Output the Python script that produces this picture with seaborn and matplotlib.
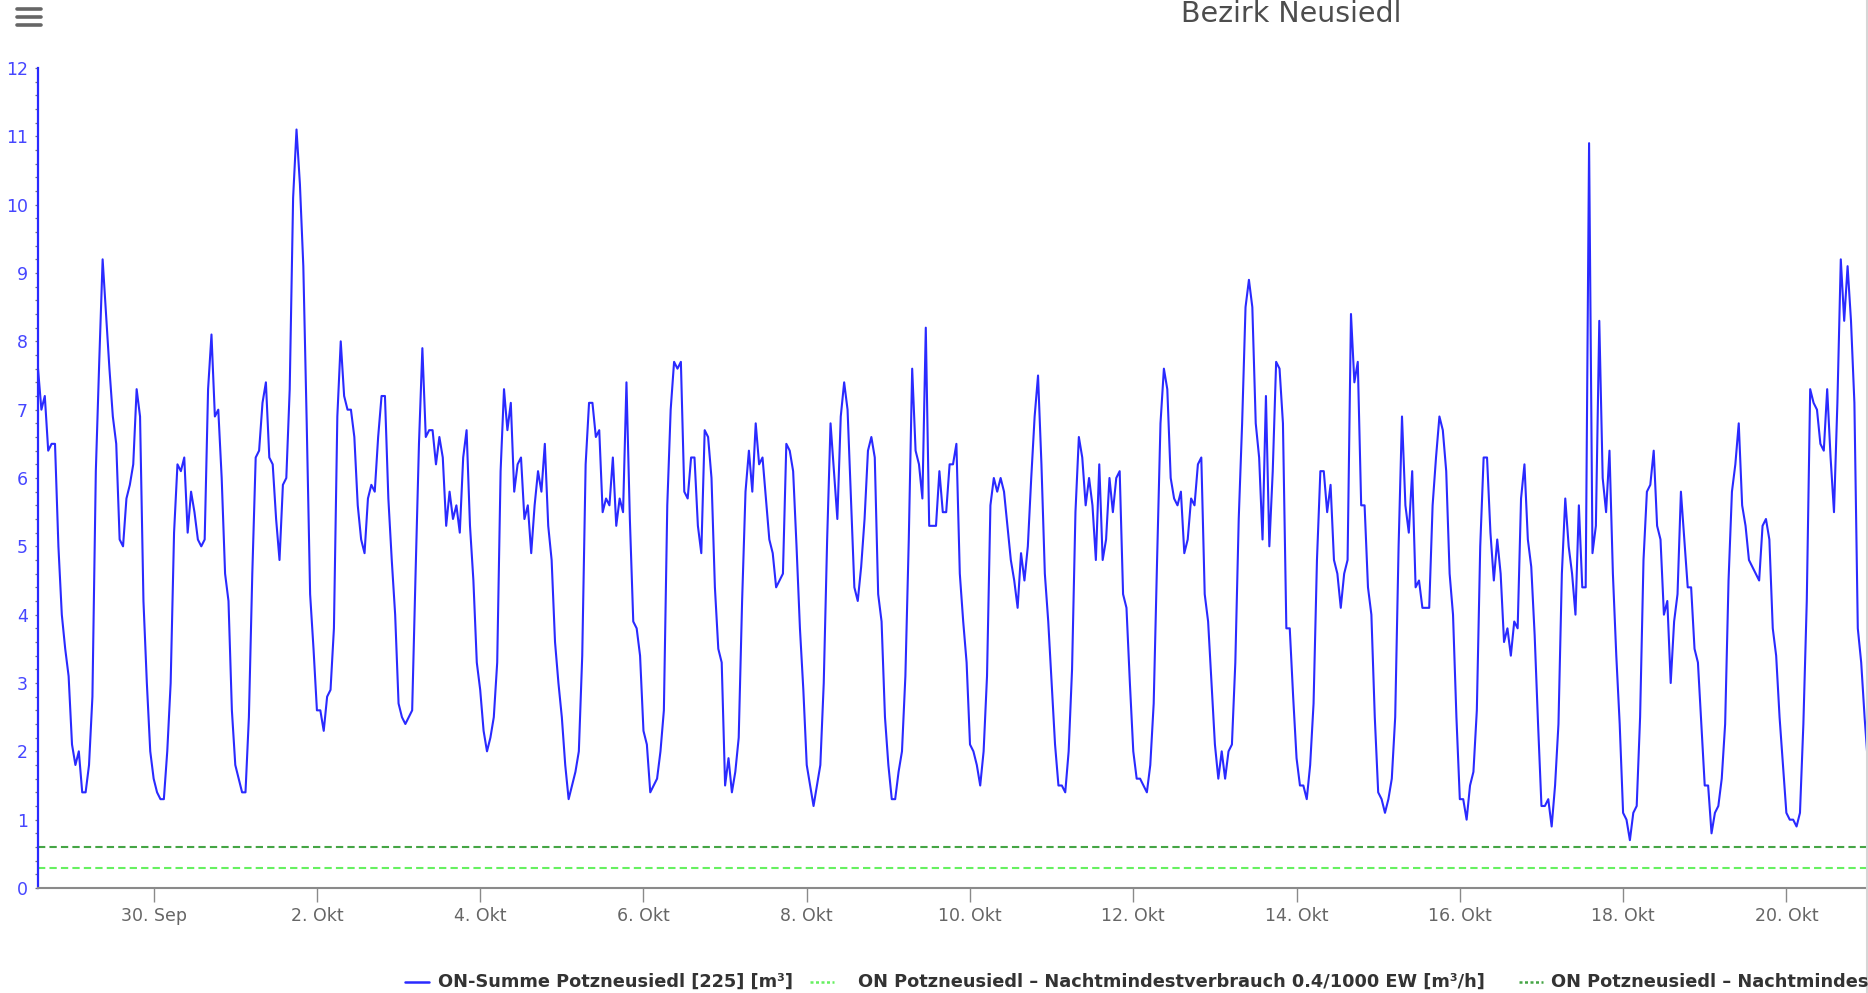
import matplotlib
matplotlib.use("Agg")
import matplotlib.pyplot as plt
from matplotlib.lines import Line2D
from matplotlib.ticker import MultipleLocator
import pandas as pd
import seaborn as sns

# Hourly night-flow totals, one list per calendar day (first day starts 14:00)
sep28 = [7.6, 7.0, 7.2, 6.4, 6.5, 6.5, 5.0, 4.0, 3.5, 3.1]
sep29 = [2.1, 1.8, 2.0, 1.4, 1.4, 1.8, 2.8, 6.1, 7.7, 9.2, 8.4, 7.6, 6.9, 6.5, 5.1, 5.0, 5.7, 5.9, 6.2, 7.3, 6.9, 4.2, 3.0, 2.0]
sep30 = [1.6, 1.4, 1.3, 1.3, 2.0, 3.0, 5.2, 6.2, 6.1, 6.3, 5.2, 5.8, 5.5, 5.1, 5.0, 5.1, 7.3, 8.1, 6.9, 7.0, 6.0, 4.6, 4.2, 2.6]
oct01 = [1.8, 1.6, 1.4, 1.4, 2.5, 4.6, 6.3, 6.4, 7.1, 7.4, 6.3, 6.2, 5.4, 4.8, 5.9, 6.0, 7.3, 10.1, 11.1, 10.3, 9.1, 6.8, 4.3, 3.5]
oct02 = [2.6, 2.6, 2.3, 2.8, 2.9, 3.8, 6.9, 8.0, 7.2, 7.0, 7.0, 6.6, 5.6, 5.1, 4.9, 5.7, 5.9, 5.8, 6.6, 7.2, 7.2, 5.7, 4.8, 4.0]
oct03 = [2.7, 2.5, 2.4, 2.5, 2.6, 4.6, 6.5, 7.9, 6.6, 6.7, 6.7, 6.2, 6.6, 6.3, 5.3, 5.8, 5.4, 5.6, 5.2, 6.3, 6.7, 5.3, 4.5, 3.3]
oct04 = [2.9, 2.3, 2.0, 2.2, 2.5, 3.3, 6.1, 7.3, 6.7, 7.1, 5.8, 6.2, 6.3, 5.4, 5.6, 4.9, 5.6, 6.1, 5.8, 6.5, 5.3, 4.8, 3.6, 3.0]
oct05 = [2.5, 1.8, 1.3, 1.5, 1.7, 2.0, 3.4, 6.2, 7.1, 7.1, 6.6, 6.7, 5.5, 5.7, 5.6, 6.3, 5.3, 5.7, 5.5, 7.4, 5.4, 3.9, 3.8, 3.4]
oct06 = [2.3, 2.1, 1.4, 1.5, 1.6, 2.0, 2.6, 5.6, 7.0, 7.7, 7.6, 7.7, 5.8, 5.7, 6.3, 6.3, 5.3, 4.9, 6.7, 6.6, 6.0, 4.4, 3.5, 3.3]
oct07 = [1.5, 1.9, 1.4, 1.7, 2.2, 4.2, 5.8, 6.4, 5.8, 6.8, 6.2, 6.3, 5.7, 5.1, 4.9, 4.4, 4.5, 4.6, 6.5, 6.4, 6.1, 5.0, 3.8, 2.9]
oct08 = [1.8, 1.5, 1.2, 1.5, 1.8, 3.0, 5.1, 6.8, 6.1, 5.4, 6.9, 7.4, 7.0, 5.7, 4.4, 4.2, 4.7, 5.4, 6.4, 6.6, 6.3, 4.3, 3.9, 2.5]
oct09 = [1.8, 1.3, 1.3, 1.7, 2.0, 3.1, 5.1, 7.6, 6.4, 6.2, 5.7, 8.2, 5.3, 5.3, 5.3, 6.1, 5.5, 5.5, 6.2, 6.2, 6.5, 4.6, 3.9, 3.3]
oct10 = [2.1, 2.0, 1.8, 1.5, 2.0, 3.1, 5.6, 6.0, 5.8, 6.0, 5.8, 5.3, 4.8, 4.5, 4.1, 4.9, 4.5, 5.0, 6.0, 6.9, 7.5, 6.2, 4.6, 3.9]
oct11 = [3.0, 2.1, 1.5, 1.5, 1.4, 2.0, 3.2, 5.5, 6.6, 6.3, 5.6, 6.0, 5.6, 4.8, 6.2, 4.8, 5.1, 6.0, 5.5, 6.0, 6.1, 4.3, 4.1, 3.0]
oct12 = [2.0, 1.6, 1.6, 1.5, 1.4, 1.8, 2.7, 4.8, 6.8, 7.6, 7.3, 6.0, 5.7, 5.6, 5.8, 4.9, 5.1, 5.7, 5.6, 6.2, 6.3, 4.3, 3.9, 3.0]
oct13 = [2.1, 1.6, 2.0, 1.6, 2.0, 2.1, 3.3, 5.4, 6.8, 8.5, 8.9, 8.5, 6.8, 6.3, 5.1, 7.2, 5.0, 6.1, 7.7, 7.6, 6.8, 3.8, 3.8, 2.8]
oct14 = [1.9, 1.5, 1.5, 1.3, 1.8, 2.7, 4.8, 6.1, 6.1, 5.5, 5.9, 4.8, 4.6, 4.1, 4.6, 4.8, 8.4, 7.4, 7.7, 5.6, 5.6, 4.4, 4.0, 2.5]
oct15 = [1.4, 1.3, 1.1, 1.3, 1.6, 2.5, 5.0, 6.9, 5.6, 5.2, 6.1, 4.4, 4.5, 4.1, 4.1, 4.1, 5.6, 6.3, 6.9, 6.7, 6.1, 4.6, 4.0, 2.5]
oct16 = [1.3, 1.3, 1.0, 1.5, 1.7, 2.6, 5.0, 6.3, 6.3, 5.2, 4.5, 5.1, 4.6, 3.6, 3.8, 3.4, 3.9, 3.8, 5.7, 6.2, 5.1, 4.7, 3.7, 2.4]
oct17 = [1.2, 1.2, 1.3, 0.9, 1.5, 2.4, 4.6, 5.7, 5.0, 4.6, 4.0, 5.6, 4.4, 4.4, 10.9, 4.9, 5.3, 8.3, 6.0, 5.5, 6.4, 4.6, 3.4, 2.4]
oct18 = [1.1, 1.0, 0.7, 1.1, 1.2, 2.5, 4.8, 5.8, 5.9, 6.4, 5.3, 5.1, 4.0, 4.2, 3.0, 3.9, 4.3, 5.8, 5.1, 4.4, 4.4, 3.5, 3.3, 2.4]
oct19 = [1.5, 1.5, 0.8, 1.1, 1.2, 1.6, 2.4, 4.5, 5.8, 6.2, 6.8, 5.6, 5.3, 4.8, 4.7, 4.6, 4.5, 5.3, 5.4, 5.1, 3.8, 3.4, 2.5, 1.8]
oct20 = [1.1, 1.0, 1.0, 0.9, 1.1, 2.4, 4.2, 7.3, 7.1, 7.0, 6.5, 6.4, 7.3, 6.3, 5.5, 7.1, 9.2, 8.3, 9.1, 8.3, 7.1, 3.8, 3.3, 2.5]
oct21 = [1.8, 1.4]

days = [sep28, sep29, sep30, oct01, oct02, oct03, oct04, oct05, oct06, oct07,
        oct08, oct09, oct10, oct11, oct12, oct13, oct14, oct15, oct16, oct17,
        oct18, oct19, oct20, oct21]
first_hour = "2019-09-28 14:00"

# Night minimum thresholds [m³/h]
night_min_04 = 0.3
night_min_08 = 0.6

# Axis labels
tick_days = ["2019-09-30", "2019-10-02", "2019-10-04", "2019-10-06", "2019-10-08",
             "2019-10-10", "2019-10-12", "2019-10-14", "2019-10-16", "2019-10-18",
             "2019-10-20"]
tick_labels = ["30. Sep", "2. Okt", "4. Okt", "6. Okt", "8. Okt", "10. Okt",
               "12. Okt", "14. Okt", "16. Okt", "18. Okt", "20. Okt"]

title = "Bezirk Neusiedl"
legend_labels = [
    "ON-Summe Potzneusiedl [225] [m³]",
    "ON Potzneusiedl – Nachtmindestverbrauch 0.4/1000 EW [m³/h]",
    "ON Potzneusiedl – Nachtmindestverbrauch 0.8/1000 EW [m³/h]",
]

values = [v for day in days for v in day]
df = pd.DataFrame({
    "time": pd.date_range(first_hour, periods=len(values), freq="h"),
    "flow": values,
})

BLUE = "#2a2aff"
LIGHT_GREEN = "#66f060"
DARK_GREEN = "#45a545"

sns.set_style("white")
plt.rcParams["font.family"] = ["DejaVu Sans"]

W, H = 1868, 993
fig = plt.figure(figsize=(W / 100, H / 100), dpi=100)
ax = fig.add_axes([38 / W, 105 / H, 1830 / W, 820 / H])

sns.lineplot(data=df, x="time", y="flow", ax=ax, color=BLUE, linewidth=1.5)
ax.axhline(night_min_04, color=LIGHT_GREEN, linewidth=1.5, dashes=(3.5, 2.0))
ax.axhline(night_min_08, color=DARK_GREEN, linewidth=1.5, dashes=(3.5, 2.0))

ax.set_xlim(pd.Timestamp(first_hour), pd.Timestamp("2019-10-21 00:00"))
ax.set_ylim(0, 12)
ax.set_xlabel("")
ax.set_ylabel("")

ax.set_xticks([pd.Timestamp(d) for d in tick_days])
ax.set_xticklabels(tick_labels)
ax.yaxis.set_major_locator(MultipleLocator(1))
ax.yaxis.set_minor_locator(MultipleLocator(0.2))

for side in ("top", "right"):
    ax.spines[side].set_visible(False)
ax.spines["left"].set_color(BLUE)
ax.spines["left"].set_linewidth(1.6)
ax.spines["bottom"].set_color("#8a8a8a")
ax.spines["bottom"].set_linewidth(1.5)

ax.tick_params(axis="x", which="major", bottom=True, length=10, width=1,
               color="#8a8a8a", labelcolor="#666666", labelsize=12.5, pad=4)
ax.tick_params(axis="y", which="both", left=True, length=2.2, width=0.9,
               color="#777777")
ax.tick_params(axis="y", which="major", labelcolor="#4646ff", labelsize=12.5, pad=5)
ax.grid(False)

# Title (partly above the visible area)
fig.text(1291 / W, 1 - 22 / H, title, ha="center", va="baseline",
         fontsize=20.5, color="#4d4d4d")

# Menu icon
for yy in (8.5, 16.5, 25.0):
    fig.add_artist(Line2D([17 / W, 41 / W], [1 - yy / H, 1 - yy / H],
                          transform=fig.transFigure, color="#666666",
                          linewidth=2.6, solid_capstyle="round"))

# Thin frame edge on the right
fig.add_artist(Line2D([1867 / W, 1867 / W], [0, 1], transform=fig.transFigure,
                      color="#d6d6d6", linewidth=1.5))

# Legend row
leg_y = 1 - 982 / H
items = [
    (405, 438, BLUE, None),
    (810, 858, LIGHT_GREEN, (1.2, 1.0)),
    (1519, 1551, DARK_GREEN, (1.2, 1.0)),
]
for (x0, xt, col, dash), label in zip(items, legend_labels):
    kw = {"dashes": dash} if dash else {}
    fig.add_artist(Line2D([x0 / W, (x0 + 24) / W], [leg_y, leg_y],
                          transform=fig.transFigure, color=col, linewidth=1.8, **kw))
    fig.text(xt / W, leg_y, label, ha="left", va="center", fontsize=12.8,
             fontweight="bold", color="#333333")

fig.savefig("out.png", dpi=100)
